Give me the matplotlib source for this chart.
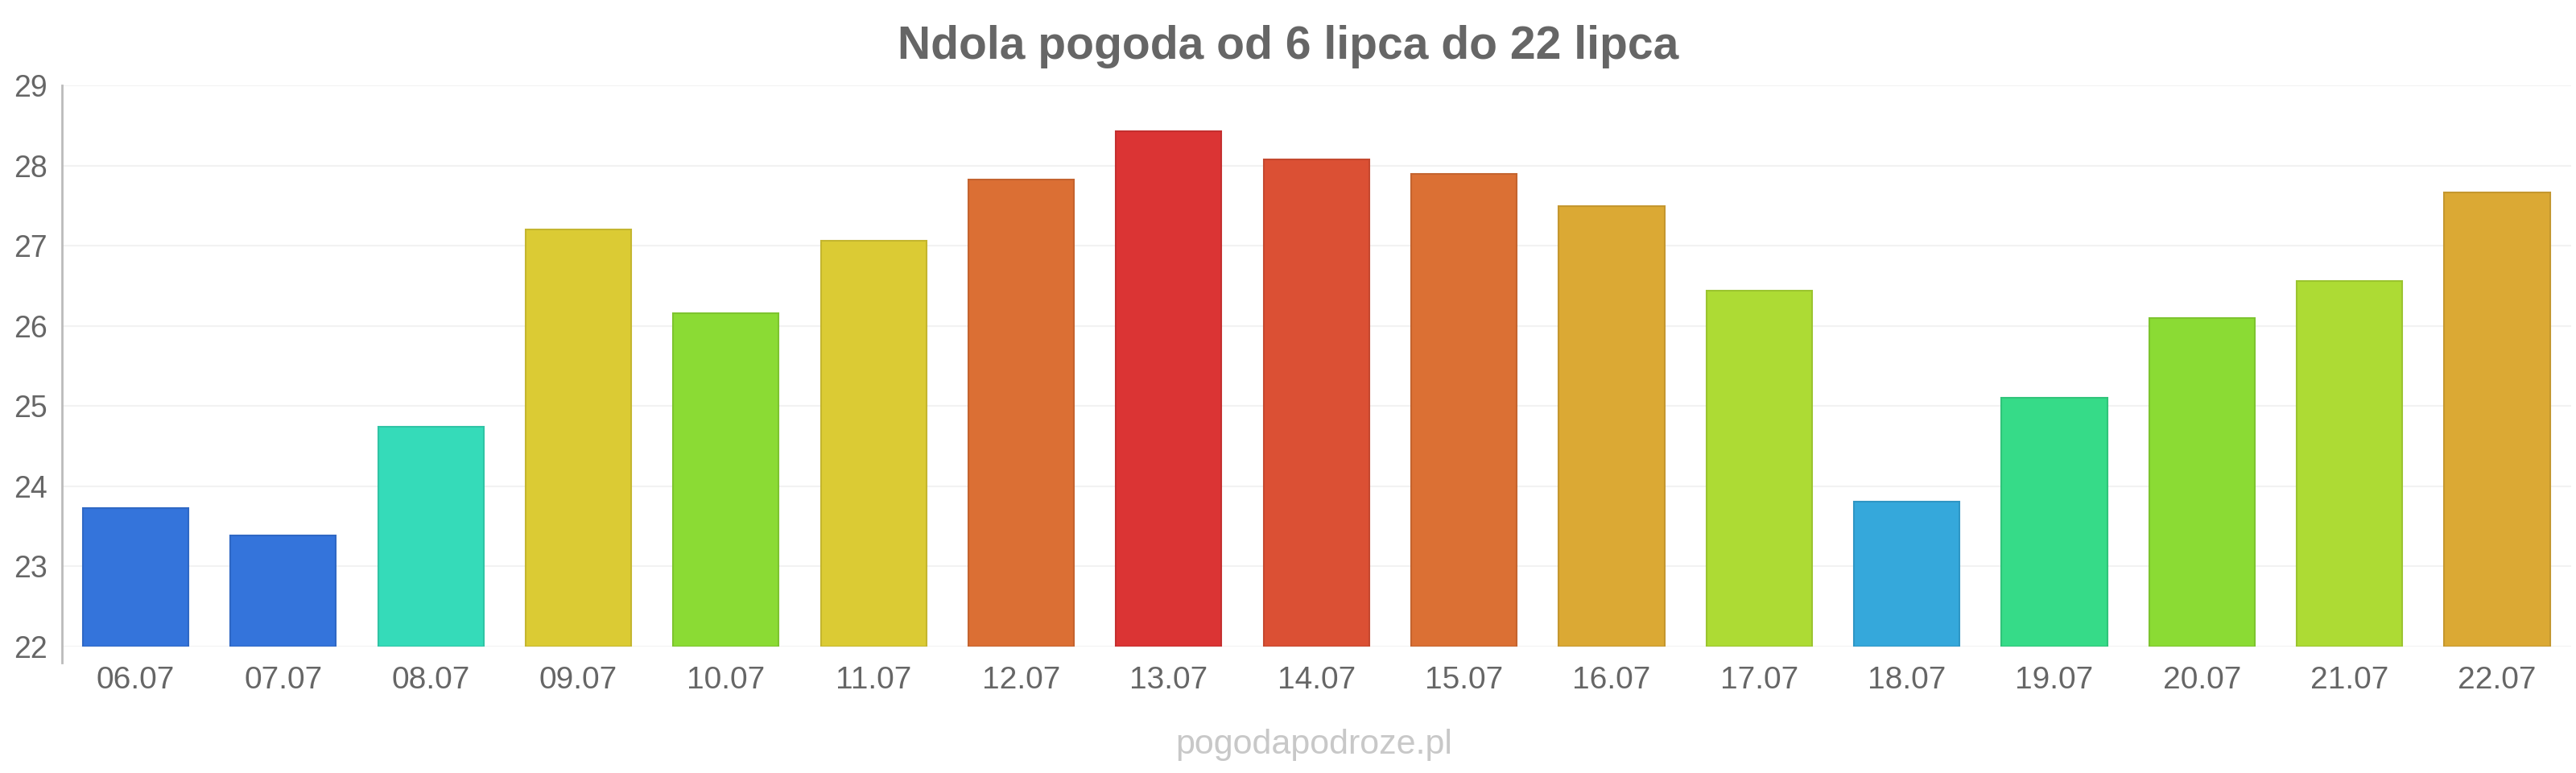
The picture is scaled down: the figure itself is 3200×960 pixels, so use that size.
import matplotlib.pyplot as plt

plt.rcParams['font.family'] = ['Liberation Sans', 'DejaVu Sans']

# data
days = ["06.07", "07.07", "08.07", "09.07", "10.07", "11.07", "12.07", "13.07", "14.07",
        "15.07", "16.07", "17.07", "18.07", "19.07", "20.07", "21.07", "22.07"]
temps = [23.73, 23.39, 24.74, 27.20, 26.16, 27.06, 27.83, 28.43, 28.08,
         27.90, 27.49, 26.44, 23.81, 25.10, 26.10, 26.56, 27.67]
colors = ["#3474db", "#3474db", "#35dbb9", "#dbcb34", "#8bdb34", "#dbcb34", "#db6f34", "#db3434", "#db5034",
          "#db7034", "#dba934", "#addb34", "#35a8db", "#36db88", "#8bdb34", "#addb34", "#dba934"]
edges = ["#2f68c4", "#2f68c4", "#30c4a5", "#c4b62f", "#7dc42f", "#c4b62f", "#c4632f", "#c42f2f", "#c4482f",
         "#c4642f", "#c4972f", "#9bc42f", "#2f96c4", "#30c47a", "#7dc42f", "#9bc42f", "#c4972f"]
yticks = [22, 23, 24, 25, 26, 27, 28, 29]

fig = plt.figure(figsize=(32, 9.6), dpi=100)
ax = fig.add_axes([0.024, 0.1635, 0.974, 0.726])

x = range(len(days))
ax.bar(x, [t - 22 for t in temps], bottom=22, width=0.716, color=colors,
       edgecolor=edges, linewidth=1.5, zorder=3)

ax.set_xlim(-0.5, len(days) - 0.5)
ax.set_ylim(22, 29)
ax.set_yticks(yticks)
ax.set_xticks(list(x))
ax.set_xticklabels(days)
ax.grid(axis="y", color="#f2f2f2", linewidth=1.5, zorder=0)
ax.tick_params(axis="y", length=0, pad=13, labelsize=27, labelcolor="#666666")
ax.tick_params(axis="x", length=0, pad=17, labelsize=28, labelcolor="#666666")

for s in ["top", "right", "bottom"]:
    ax.spines[s].set_visible(False)
ax.spines["left"].set_color("#bbbbbb")
ax.spines["left"].set_linewidth(2)
ax.spines["left"].set_bounds(21.8, 29)

fig.text(0.5, 0.94, "Ndola pogoda od 6 lipca do 22 lipca", ha="center", va="center",
         fontsize=41, fontweight="bold", color="#666666")
fig.text(0.51, 0.036, "pogodapodroze.pl", ha="center", va="center",
         fontsize=31, color="#c8c8c8")

fig.savefig("out.png", dpi=100)
